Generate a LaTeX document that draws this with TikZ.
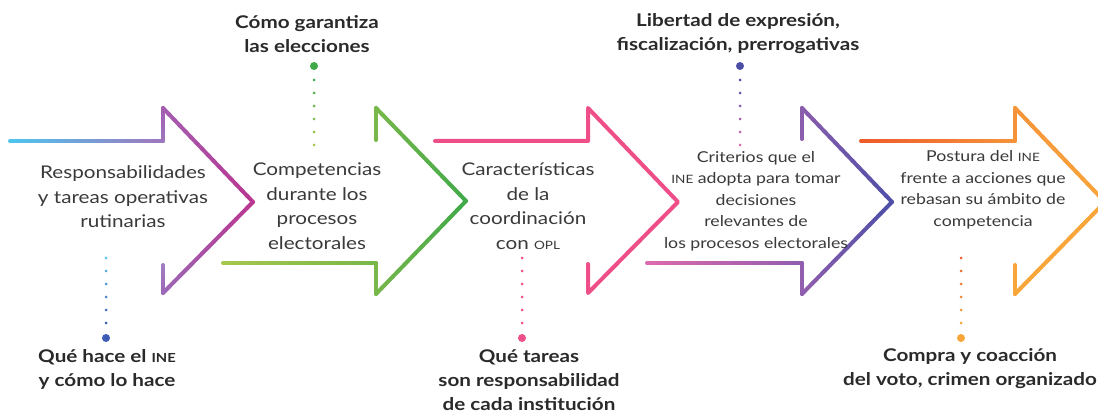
\documentclass[tikz,border=0pt]{standalone}
\usepackage{fontspec}
\setmainfont{Lato}[FakeStretch=1.18]
\usetikzlibrary{calc}
\definecolor{txt}{HTML}{3A3A3A}
\definecolor{labc}{HTML}{2A2A2A}
% arrow 1
\definecolor{aA}{HTML}{4CC6EE}
\definecolor{aB}{HTML}{9E78BE}
\definecolor{aC}{HTML}{A35EB2}
\definecolor{aD}{HTML}{BA3590}
\definecolor{aE}{HTML}{9C68B6}
\definecolor{aF}{HTML}{A27CC0}
% arrow 2
\definecolor{bA}{HTML}{A6C74C}
\definecolor{bB}{HTML}{78B74A}
\definecolor{bC}{HTML}{3FAA48}
% arrow 3
\definecolor{cA}{HTML}{EF4F88}
% arrow 4
\definecolor{dA}{HTML}{DD6AAE}
\definecolor{dB}{HTML}{925EAE}
\definecolor{dC}{HTML}{4D4FA7}
\definecolor{dD}{HTML}{8A5DAD}
% arrow 5
\definecolor{eA}{HTML}{EE5A2B}
\definecolor{eB}{HTML}{F6933A}
\definecolor{eC}{HTML}{F8A63A}
% dots
\definecolor{blueL}{HTML}{55C2EF}
\definecolor{blueD}{HTML}{3D5CB5}
\newcommand\gseg[4]{%
  \foreach \i in {0,...,15}{%
    \pgfmathtruncatemacro\p{round((\i+0.5)*100/16)}%
    \draw[arrowline,#4!\p!#3] ($(#1)!\i/16!(#2)$) -- ($(#1)!{(\i+1)/16}!(#2)$);
  }}
\newcommand\sm{\fontsize{11.5}{12}\selectfont}
\newcommand\smb{\fontsize{12.5}{12}\selectfont}
\tikzset{
  arrowline/.style={line width=4pt,line cap=round},
  body/.style={align=center,text=txt,font=\fontsize{17.5}{24.5}\selectfont,inner sep=0pt},
  bodys/.style={align=center,text=txt,font=\fontsize{15}{21.5}\selectfont,inner sep=0pt},
  lab/.style={align=center,text=labc,font=\bfseries\fontsize{17.5}{24}\selectfont,inner sep=0pt},
  smalldot/.style={circle,inner sep=0pt,minimum size=3pt},
  bigdot/.style={circle,inner sep=0pt,minimum size=8pt}
}
\begin{document}
\begin{tikzpicture}[x=1pt,y=-1pt]
\clip (0,0) rectangle (1098,414);
\fill[white] (0,0) rectangle (1098,414);

% ---------- arrow 1
\coordinate (a0) at (10,141);
\coordinate (a1) at (163,141);
\coordinate (a2) at (163,108);
\coordinate (a3) at (253,202);
\coordinate (a4) at (163,293);
\coordinate (a5) at (163,265);
\gseg{a0}{a1}{aA}{aB}
\gseg{a1}{a2}{aB}{aC}
\gseg{a2}{a3}{aC}{aD}
\gseg{a3}{a4}{aD}{aE}
\gseg{a4}{a5}{aE}{aF}

% ---------- arrow 2
\coordinate (b0) at (223,263);
\coordinate (b1) at (376,263);
\coordinate (b2) at (376,294);
\coordinate (b3) at (466,201);
\coordinate (b4) at (376,108);
\coordinate (b5) at (376,140);
\gseg{b0}{b1}{bA}{bB}
\gseg{b1}{b2}{bB}{bB}
\gseg{b2}{b3}{bB}{bC}
\gseg{b3}{b4}{bC}{bB}
\gseg{b4}{b5}{bB}{bB}

% ---------- arrow 3
\coordinate (c0) at (435,141);
\coordinate (c1) at (588,141);
\coordinate (c2) at (588,108);
\coordinate (c3) at (678,202);
\coordinate (c4) at (588,293);
\coordinate (c5) at (588,264);
\draw[arrowline,line join=round,cA] (c0) -- (c1) -- (c2) -- (c3) -- (c4) -- (c5);

% ---------- arrow 4
\coordinate (d0) at (647,263);
\coordinate (d1) at (802,263);
\coordinate (d2) at (802,294);
\coordinate (d3) at (892,202);
\coordinate (d4) at (802,108);
\coordinate (d5) at (802,139);
\gseg{d0}{d1}{dA}{dB}
\gseg{d1}{d2}{dB}{dB}
\gseg{d2}{d3}{dB}{dC}
\gseg{d3}{d4}{dC}{dD}
\gseg{d4}{d5}{dD}{dD}

% ---------- arrow 5
\coordinate (e0) at (861,141);
\coordinate (e1) at (1015,141);
\coordinate (e2) at (1015,108);
\coordinate (e3) at (1105,202);
\coordinate (e4) at (1015,294);
\coordinate (e5) at (1015,265);
\gseg{e0}{e1}{eA}{eB}
\gseg{e1}{e2}{eB}{eB}
\gseg{e2}{e3}{eB}{eC}
\gseg{e3}{e4}{eC}{eC}
\gseg{e4}{e5}{eC}{eC}

% ---------- dotted leaders
\foreach \k in {0,...,5}{
  \pgfmathtruncatemacro\q{\k*20}
  \node[smalldot,fill=blueD!\q!blueL] at (106,{258+13*\k}) {};
  \node[smalldot,fill=bC!\q!bA] at (314,{145-13*\k}) {};
  \node[smalldot,fill=cA] at (522,{258+13*\k}) {};
  \node[smalldot,fill=dC!\q!dA] at (740,{145-13*\k}) {};
  \node[smalldot,fill=eC!\q!eA] at (961,{258+13*\k}) {};
}
\node[bigdot,fill=blueD] (d1end) at (106,338) {};
\node[bigdot,fill=bC] (d2end) at (314,66) {};
\node[bigdot,fill=cA] (d3end) at (522,338) {};
\node[bigdot,fill=dC] (d4end) at (740,66) {};
\node[bigdot,fill=eC] (d5end) at (961,338) {};

% ---------- body texts
\node[body] (t1) at (123,197) {Responsabilidades\\y tareas operativas\\rutinarias};
\node[body] (t2) at (317,206) {Competencias\\durante los\\procesos\\electorales};
\node[body] (t3) at (528,206) {Características\\de la\\coordinación\\con {\sm OPL}};
\node[bodys] (t4) at (756,201) {Criterios que el\\{\sm INE} adopta para tomar\\decisiones\\relevantes de\\los procesos electorales};
\node[bodys] (t5) at (983,190) {Postura del {\sm INE}\\frente a acciones que\\rebasan su ámbito de\\competencia};

% ---------- labels
\node[lab] (l1) at (107,369) {Qué hace el {\smb INE}\\y cómo lo hace};
\node[lab] (l2) at (307,34) {Cómo garantiza\\las elecciones};
\node[lab] (l3) at (529,380) {Qué tareas\\son responsabilidad\\de cada institución};
\node[lab] (l4) at (738,34) {Libertad de expresión,\\fiscalización, prerrogativas};
\node[lab] (l5) at (970,369) {Compra y coacción\\del voto, crimen organizado};
\end{tikzpicture}
\end{document}
